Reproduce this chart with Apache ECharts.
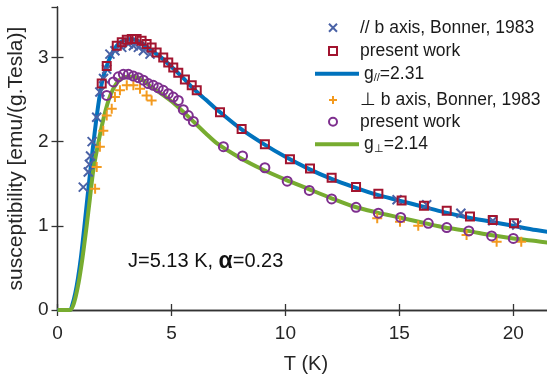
<!DOCTYPE html>
<html>
<head>
<meta charset="utf-8">
<script src="https://cdn.jsdelivr.net/npm/echarts@6/dist/echarts.min.js"></script>
<style>
  html, body { margin: 0; padding: 0; background: #fff; }
  #main { width: 547px; height: 376px; }
</style>
</head>
<body>
<div id="main"></div>
<script>
// // b axis, Bonner 1983 (crosses)
var bonnerParT = [1.13, 1.35, 1.40, 1.45, 1.52, 1.72, 1.86, 2.02, 2.16, 2.30, 2.52, 2.82, 3.11, 3.33, 3.55, 3.77, 4.06, 14.9, 16.2, 17.7, 19.1, 20.15]
var bonnerParChi = [1.46, 1.64, 1.73, 1.83, 2.00, 2.29, 2.59, 2.75, 2.86, 3.04, 3.08, 3.12, 3.16, 3.14, 3.12, 3.08, 3.04, 1.31, 1.25, 1.15, 1.06, 1.01]

// present work, parallel (squares)
var presParT = [1.94, 2.16, 2.60, 2.82, 3.04, 3.26, 3.47, 3.69, 3.91, 4.13, 4.35, 4.64, 4.86, 5.08, 5.30, 5.59, 5.89, 6.11, 7.13, 8.08, 9.10, 10.2, 11.08, 12.03, 13.1, 14.08, 15.1, 16.08, 17.08, 18.1, 19.1, 20.03]
var presParChi = [2.69, 2.90, 3.14, 3.18, 3.21, 3.22, 3.22, 3.20, 3.16, 3.12, 3.06, 3.00, 2.94, 2.88, 2.82, 2.74, 2.67, 2.61, 2.35, 2.15, 1.97, 1.79, 1.68, 1.57, 1.46, 1.38, 1.30, 1.24, 1.18, 1.11, 1.07, 1.03]

// fit g// = 2.31
var fitParT = [0, 0.3, 0.55, 0.65, 0.78, 0.9, 1.03, 1.17, 1.33, 1.5, 1.72, 1.94, 2.16, 2.45, 2.7, 3.0, 3.25, 3.5, 3.75, 4.0, 4.5, 5.0, 5.5, 6.0, 6.5, 7, 8, 9, 10, 11, 12, 13, 14, 15, 16, 17, 18, 19, 20, 21, 22]
var fitParChi = [0, 0, 0, 0.06, 0.2, 0.38, 0.63, 0.97, 1.38, 1.8, 2.3, 2.69, 2.9, 3.08, 3.17, 3.21, 3.22, 3.20, 3.16, 3.11, 3.01, 2.89, 2.76, 2.62, 2.50, 2.38, 2.16, 1.98, 1.82, 1.68, 1.56, 1.46, 1.37, 1.30, 1.23, 1.16, 1.10, 1.05, 1.00, 0.95, 0.91]

// ⊥ b axis, Bonner 1983 (plus)
var bonnerPerpT = [1.65, 1.72, 1.86, 2.01, 2.16, 2.38, 2.52, 2.74, 3.04, 3.33, 3.62, 3.91, 4.13, 14.03, 15.03, 15.83, 17.95, 19.27, 20.35]
var bonnerPerpChi = [1.44, 1.70, 1.94, 2.13, 2.31, 2.39, 2.53, 2.61, 2.67, 2.67, 2.63, 2.55, 2.49, 1.09, 1.05, 1.00, 0.89, 0.81, 0.81]

// present work, perpendicular (circles)
var presPerpT = [2.16, 2.45, 2.67, 2.89, 3.11, 3.33, 3.55, 3.77, 3.98, 4.20, 4.42, 4.64, 4.86, 5.08, 5.30, 5.52, 5.74, 5.96, 7.28, 8.12, 9.10, 10.08, 11.05, 12.03, 13.1, 14.08, 15.06, 16.27, 17.08, 18.05, 19.05, 20.0]
var presPerpChi = [2.55, 2.71, 2.77, 2.80, 2.80, 2.78, 2.76, 2.73, 2.69, 2.67, 2.64, 2.61, 2.57, 2.53, 2.49, 2.38, 2.31, 2.24, 1.94, 1.83, 1.69, 1.53, 1.42, 1.32, 1.22, 1.15, 1.10, 1.03, 0.98, 0.94, 0.88, 0.85]

// fit g⊥ = 2.14
var fitPerpT = [0, 0.3, 0.55, 0.68, 0.8, 0.93, 1.06, 1.17, 1.28, 1.42, 1.57, 1.75, 1.94, 2.1, 2.25, 2.45, 2.67, 2.9, 3.1, 3.35, 3.6, 3.85, 4.06, 4.5, 5.0, 5.5, 6.0, 6.5, 7, 8, 9, 10, 11, 12, 13, 14, 15, 16, 17, 18, 19, 20, 21, 22]
var fitPerpChi = [0, 0, 0, 0.05, 0.16, 0.33, 0.55, 0.77, 1.0, 1.32, 1.66, 1.93, 2.18, 2.36, 2.50, 2.63, 2.72, 2.76, 2.77, 2.77, 2.75, 2.71, 2.66, 2.58, 2.48, 2.36, 2.23, 2.10, 1.98, 1.81, 1.67, 1.55, 1.44, 1.33, 1.23, 1.16, 1.10, 1.04, 0.98, 0.94, 0.89, 0.85, 0.82, 0.78]

var legendNames = ['parBonner', 'parPresent', 'gPar', 'perpBonner', 'perpPresent', 'gPerp']
var legendLabels = {
  parBonner: '{n|// b axis, Bonner, 1983}',
  parPresent: '{n|present work}',
  gPar: '{n|g}{s|//}{n|=2.31}',
  perpBonner: '{n|\u22a5 b axis, Bonner, 1983}',
  perpPresent: '{n|present work}',
  gPerp: '{n|g}{s|\u22a5}{n|=2.14}'
}

function zip(a, b) {
  return a.map(function (v, i) { return [v, b[i]] })
}

var FONT = 'Liberation Sans, Arial, Helvetica, sans-serif'
var symX = 'path://M0,0L10,10M10,0L0,10'
var symPlus = 'path://M5,0L5,10M0,5L10,5'
var symSquare = 'path://M0,0L10,0L10,10L0,10Z'
var symCircle = 'path://M0,5A5,5,0,1,0,10,5A5,5,0,1,0,0,5Z'

// legend rows: centre y of each entry
var legendRows = [26.7, 50, 72.7, 99, 120.7, 143.3]
var legends = legendNames.map(function (n, i) {
  var isLine = n.charAt(0) === 'g'
  var lg = {
    data: [n],
    left: isLine ? 308 : 323,
    top: legendRows[i] - 14,
    itemWidth: 44,
    itemHeight: 8,
    itemGap: 0,
    selectedMode: false,
    formatter: function (name) { return legendLabels[name] },
    textStyle: {
      lineHeight: 20,
      rich: {
        n: { fontSize: 17.5, fontFamily: FONT, color: '#1a1a1a', lineHeight: 20 },
        s: { fontSize: 11, fontFamily: FONT, color: '#1a1a1a', padding: [9, 0, 0, 0] }
      }
    }
  }
  if (isLine) {
    lg.itemStyle = { opacity: 0 }
    lg.lineStyle = { width: 4 }
  }
  return lg
})

var chart = echarts.init(document.getElementById('main'))
var option = {
  animation: false,
  grid: { left: 57.5, top: 7, right: -7.3, bottom: 66, containLabel: false, outerBoundsMode: 'none' },
  legend: legends,
  xAxis: [
    {
      type: 'value', min: 0, max: 21.8, interval: 5,
      name: 'T (K)', nameLocation: 'middle', nameGap: 44,
      nameTextStyle: { fontSize: 20, fontFamily: FONT, color: '#262626' },
      axisLine: { lineStyle: { color: '#333', width: 1.3 } },
      axisTick: { inside: true, length: 6, lineStyle: { color: '#333', width: 1.3 } },
      axisLabel: { fontSize: 19, fontFamily: FONT, color: '#262626', margin: 14, showMaxLabel: false },
      splitLine: { show: false }
    },
    {
      type: 'value', position: 'top', min: 0, max: 21.8, interval: 5,
      axisLine: { lineStyle: { color: '#333', width: 1.3 } },
      axisTick: { inside: true, length: 6, lineStyle: { color: '#333', width: 1.3 } },
      axisLabel: { show: false },
      splitLine: { show: false }
    }
  ],
  yAxis: [
    {
      type: 'value', min: 0, max: 3.6, interval: 1,
      name: 'susceptibility [emu/(g.Tesla)]', nameLocation: 'middle', nameGap: 20,
      nameTextStyle: { fontSize: 21, fontFamily: FONT, color: '#262626' },
      axisLine: { lineStyle: { color: '#333', width: 1.3 } },
      axisTick: { inside: true, length: 6, lineStyle: { color: '#333', width: 1.3 } },
      axisLabel: { fontSize: 19, fontFamily: FONT, color: '#262626', margin: 9, showMaxLabel: false },
      splitLine: { show: false }
    },
    {
      type: 'value', position: 'right', min: 0, max: 3.6, interval: 1,
      axisLine: { lineStyle: { color: '#333', width: 1.3 } },
      axisTick: { inside: true, length: 6, lineStyle: { color: '#333', width: 1.3 } },
      axisLabel: { show: false },
      splitLine: { show: false }
    }
  ],
  graphic: [
    {
      type: 'text', left: 128, top: 250,
      style: {
        text: '{t|J=5.13 K, }{a|\u03b1}{t|=0.23}',
        rich: {
          t: { fontSize: 20, fontFamily: FONT, fill: '#111' },
          a: { fontSize: 23, fontFamily: FONT, fontWeight: 'bold', fill: '#111' }
        }
      }
    }
  ],
  series: [
    {
      name: 'gPar', type: 'line', data: zip(fitParT, fitParChi),
      symbol: 'none', smooth: 0.3,
      lineStyle: { color: '#0072BD', width: 4 }, itemStyle: { color: '#0072BD' }, z: 3
    },
    {
      name: 'gPerp', type: 'line', data: zip(fitPerpT, fitPerpChi),
      symbol: 'none', smooth: 0.3,
      lineStyle: { color: '#77AC30', width: 4 }, itemStyle: { color: '#77AC30' }, z: 3
    },
    {
      name: 'parBonner', type: 'scatter', data: zip(bonnerParT, bonnerParChi),
      symbol: symX, symbolSize: 9,
      itemStyle: { color: 'rgba(0,0,0,0)', borderColor: '#4A62A6', borderWidth: 2, opacity: 1 }, z: 4
    },
    {
      name: 'parPresent', type: 'scatter', data: zip(presParT, presParChi),
      symbol: symSquare, symbolSize: 8,
      itemStyle: { color: 'rgba(0,0,0,0)', borderColor: '#A2142F', borderWidth: 2, opacity: 1 }, z: 4
    },
    {
      name: 'perpBonner', type: 'scatter', data: zip(bonnerPerpT, bonnerPerpChi),
      symbol: symPlus, symbolSize: 10,
      itemStyle: { color: 'rgba(0,0,0,0)', borderColor: '#F39A1E', borderWidth: 2, opacity: 1 }, z: 4
    },
    {
      name: 'perpPresent', type: 'scatter', data: zip(presPerpT, presPerpChi),
      symbol: symCircle, symbolSize: 9,
      itemStyle: { color: 'rgba(0,0,0,0)', borderColor: '#7E2F8E', borderWidth: 2, opacity: 1 }, z: 4
    }
  ]
}
chart.setOption(option)
</script>
</body>
</html>
